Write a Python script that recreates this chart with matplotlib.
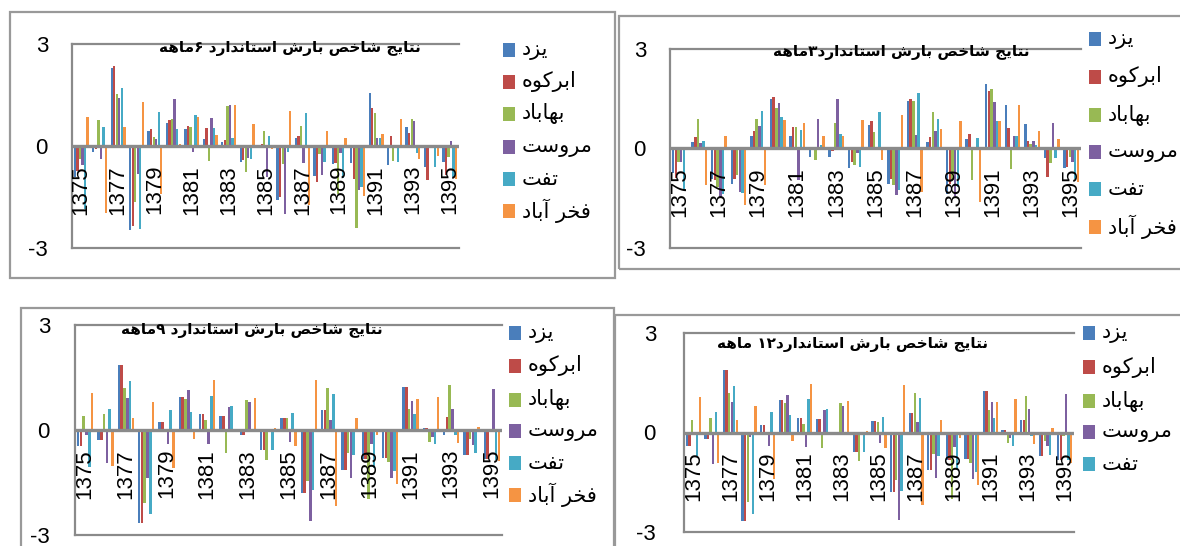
import re
import matplotlib
matplotlib.use('Agg')
import matplotlib.pyplot as plt
from matplotlib.patches import Rectangle
import numpy as np

W, H = 1180, 546

years = list(range(1375, 1396))
stations = ['يزد', 'ابركوه', 'بهاباد', 'مروست', 'تفت', 'فخر آباد']
colors = ['#4A7EBB', '#BE4B48', '#98B954', '#7D60A0', '#46AAC5', '#F59443']

# SPI values, one row per station (same order as stations)
spi6 = [
    [-0.9, -0.18, 2.29, -2.48, 0.43, 0.68, 0.5, 0.21, 0.11, -0.48, -0.02, -1.58, 0.23, -0.88, -0.53, -0.51, 1.56, -0.57, 0.55, -0.61, -0.47],
    [-0.75, -0.1, 2.36, -2.35, 0.5, 0.77, 0.58, 0.52, 0.18, -0.42, 0.05, -1.49, 0.3, -1.06, -0.51, -0.96, 1.12, 0.28, 0.38, -1.01, -0.86],
    [-0.37, 0.75, 1.54, -1.65, 0.25, 0.8, 0.55, -0.44, 1.18, -0.76, 0.45, -0.53, 0.6, -0.24, -1.4, -2.4, 0.97, -0.44, 0.79, 0.02, -0.32],
    [-0.55, -0.37, 1.4, -0.83, 0.22, 1.39, -0.19, 0.82, 1.21, -0.35, -0.9, -2.0, -0.5, -0.86, -0.2, -1.29, 0.23, 0.03, 0.74, 0.0, 0.15],
    [-1.85, 0.57, 1.7, -2.43, 1.0, 0.5, 0.92, 0.52, 0.23, -0.37, 0.28, -0.17, 0.97, -0.47, -0.93, -1.21, 0.23, -0.47, -0.22, -0.63, -0.91],
    [0.85, -1.98, 0.57, 1.29, -1.4, 0.07, 0.84, 0.32, 1.2, 0.64, -0.1, 1.03, -1.75, 0.45, 0.23, -1.48, 0.35, 0.79, -0.39, -0.29, -0.96],
]
spi3 = [
    [-0.75, 0.2, -0.91, -1.06, 0.37, 1.48, 0.37, -0.25, -0.27, -0.6, 0.71, -1.08, 1.43, 0.2, -1.36, 0.3, 1.94, 1.3, 0.73, -0.28, -0.6],
    [-0.9, 0.35, -0.95, -0.91, 0.53, 1.55, 0.66, 0.0, -0.08, -0.4, 0.84, -0.93, 1.49, 0.35, -1.06, 0.45, 1.74, 0.63, 0.23, -0.86, -0.56],
    [-0.4, 0.9, -1.16, -0.81, 0.88, 1.21, 0.66, -0.35, 0.76, -0.5, 0.5, -1.11, 1.43, 1.11, -0.96, -0.96, 1.79, -0.61, 0.13, -0.45, -0.25],
    [-0.4, 0.18, -1.46, -1.31, 0.68, 1.36, -0.95, 0.88, 1.48, -0.15, 0.0, -1.39, 0.42, 0.53, -1.43, 0.0, 1.39, 0.37, 0.23, 0.76, -0.4],
    [-1.24, 0.24, -1.36, -1.34, 1.13, 0.94, 0.56, 0.12, 0.45, -0.57, 1.09, -1.24, 1.67, 0.88, -1.16, 0.33, 0.83, 0.37, 0.12, -0.3, -0.91],
    [0.02, -1.09, 0.39, -1.69, -1.11, 0.86, 0.76, 0.37, 0.39, 0.86, -0.35, 1.01, -1.3, 0.58, 0.84, -1.62, 0.83, 1.32, 0.53, 0.28, -1.0],
]
spi9 = [
    [-0.46, -0.29, 1.86, -2.65, 0.23, 0.94, 0.45, 0.39, -0.15, -0.58, 0.33, -1.79, 0.57, -1.14, -0.84, -0.79, 1.24, 0.07, -0.15, -0.7, -0.84],
    [-0.46, -0.29, 1.86, -2.65, 0.23, 0.94, 0.45, 0.39, -0.15, -0.58, 0.33, -1.79, 0.57, -1.14, -0.84, -0.79, 1.24, 0.07, 0.37, -0.7, -0.84],
    [0.4, 0.47, 1.19, -2.08, 0.0, 0.9, 0.28, -0.67, 0.87, -0.87, 0.33, -1.46, 1.19, -0.65, -1.98, -0.9, 0.61, -0.34, 1.29, -0.27, -0.05],
    [-0.14, -0.93, 0.92, -1.36, -0.41, 1.14, -0.41, 0.66, 0.8, 0.04, -0.33, -2.6, 0.3, -1.36, -0.41, -1.38, 0.83, -0.19, 0.61, -0.44, 1.16],
    [-1.05, 0.59, 1.4, -2.41, 0.56, 0.52, 0.97, 0.69, 0.0, -0.57, 0.48, -1.71, 1.04, -0.7, -1.08, -1.17, 0.45, -0.39, -0.15, -0.65, -0.85],
    [1.05, -1.03, 0.33, 0.81, -1.08, -0.27, 1.43, -0.03, 0.92, 0.05, -0.46, 1.42, -2.17, 0.35, -0.15, -1.53, 0.9, 0.95, -0.36, 0.09, -0.88],
]
spi12 = [
    [-0.4, -0.2, 1.89, -2.68, 0.24, 0.98, 0.45, 0.4, -0.05, -0.6, 0.35, -1.8, 0.58, -1.14, -0.84, -0.81, 1.26, 0.09, 0.37, -0.72, -0.84],
    [-0.4, -0.2, 1.89, -2.68, 0.24, 0.98, 0.45, 0.4, -0.05, -0.6, 0.35, -1.8, 0.58, -1.14, -0.84, -0.81, 1.26, 0.09, 0.37, -0.72, -0.84],
    [0.39, 0.45, 1.2, -2.1, 0.0, 0.9, 0.26, -0.46, 0.89, -0.87, 0.32, -1.44, 1.2, -0.64, -2.0, -0.92, 0.68, -0.33, 1.1, -0.25, -0.1],
    [-0.08, -0.96, 0.92, -0.13, -0.41, 1.13, -0.43, 0.68, 0.8, 0.02, -0.33, -2.63, 0.31, -1.36, -0.43, -1.39, 0.91, -0.18, 0.7, -0.41, 1.15],
    [-0.72, 0.61, 1.4, -2.45, 0.61, 0.53, 1.0, 0.72, 0.0, -0.6, 0.47, -1.75, 1.05, -0.71, -1.09, -1.19, 0.45, -0.41, -0.1, -0.67, -0.84],
    [1.06, -0.92, 0.37, 0.8, -1.4, -0.26, 1.45, -0.03, 0.95, 0.04, -0.46, 1.43, -2.2, 0.37, -0.16, -1.57, 0.92, 1.01, -0.36, 0.13, -0.92],
]

title6 = 'نتایج شاخص بارش استاندارد ۶ماهه'
title3 = 'نتایج شاخص بارش استاندارد۳ماهه'
title9 = 'نتایج شاخص بارش استاندارد ۹ماهه'
title12 = 'نتایج شاخص بارش استاندارد۱۲ ماهه'

# matplotlib does no arabic shaping, so pick presentation forms by hand
# (isolated, final, initial, medial)
FORMS = {
    'ا': ('\uFE8D', '\uFE8E', None, None),
    'آ': ('\uFE81', '\uFE82', None, None),
    'ب': ('\uFE8F', '\uFE90', '\uFE91', '\uFE92'),
    'ت': ('\uFE95', '\uFE96', '\uFE97', '\uFE98'),
    'ج': ('\uFE9D', '\uFE9E', '\uFE9F', '\uFEA0'),
    'خ': ('\uFEA5', '\uFEA6', '\uFEA7', '\uFEA8'),
    'د': ('\uFEA9', '\uFEAA', None, None),
    'ر': ('\uFEAD', '\uFEAE', None, None),
    'ز': ('\uFEAF', '\uFEB0', None, None),
    'س': ('\uFEB1', '\uFEB2', '\uFEB3', '\uFEB4'),
    'ش': ('\uFEB5', '\uFEB6', '\uFEB7', '\uFEB8'),
    'ص': ('\uFEB9', '\uFEBA', '\uFEBB', '\uFEBC'),
    'ف': ('\uFED1', '\uFED2', '\uFED3', '\uFED4'),
    'ك': ('\uFED9', '\uFEDA', '\uFEDB', '\uFEDC'),
    'ک': ('\uFED9', '\uFEDA', '\uFEDB', '\uFEDC'),
    'م': ('\uFEE1', '\uFEE2', '\uFEE3', '\uFEE4'),
    'ن': ('\uFEE5', '\uFEE6', '\uFEE7', '\uFEE8'),
    'ه': ('\uFEE9', '\uFEEA', '\uFEEB', '\uFEEC'),
    'و': ('\uFEED', '\uFEEE', None, None),
    'ي': ('\uFEF1', '\uFEF2', '\uFEF3', '\uFEF4'),
    'ی': ('\uFEF1', '\uFEF2', '\uFEF3', '\uFEF4'),
}


def shape(text):
    out = []
    for i, ch in enumerate(text):
        if ch not in FORMS:
            out.append(ch)
            continue
        prev = text[i - 1] if i > 0 else ''
        nxt = text[i + 1] if i < len(text) - 1 else ''
        jp = prev in FORMS and FORMS[prev][2] is not None
        jn = FORMS[ch][2] is not None and nxt in FORMS
        iso, fin, ini, med = FORMS[ch]
        if jp and jn:
            out.append(med)
        elif jp:
            out.append(fin)
        elif jn:
            out.append(ini)
        else:
            out.append(iso)
    vis = ''.join(reversed(out))
    # digit runs stay left to right
    return re.sub('[0-9\u06F0-\u06F9]+', lambda m: m.group(0)[::-1], vis)


GREY = '#8a8a8a'
NUMFONT = 'Liberation Sans'
ARFONT = ['DejaVu Sans']

fig = plt.figure(figsize=(W / 100, H / 100), dpi=100)


def frame(x0, y0, x1, y1):
    fig.patches.append(Rectangle((x0 / W, 1 - y1 / H), (x1 - x0) / W, (y1 - y0) / H,
                                 transform=fig.transFigure, fill=False, ec='#999999', lw=1.6))


def panel(data, title, names, box, plot, ylab_right, title_xy, leg_x, leg_ys):
    frame(*box)
    x0, y0, x1, y1 = plot
    ax = fig.add_axes([x0 / W, 1 - y1 / H, (x1 - x0) / W, (y1 - y0) / H])
    x = np.arange(len(years))
    step = 0.138
    for k, vals in enumerate(data):
        ax.bar(x + (k - 2.5) * step, vals, width=0.125, color=colors[k], lw=0, zorder=2)
    ax.set_xlim(-0.5, len(years) - 0.5)
    ax.set_ylim(-3, 3)
    for s in ['top', 'right', 'bottom']:
        ax.spines[s].set_visible(False)
    ax.spines['left'].set_color(GREY)
    ax.spines['left'].set_linewidth(1.6)
    ax.axhline(3, color=GREY, lw=1.6, clip_on=False)
    ax.axhline(-3, color=GREY, lw=1.6, clip_on=False)
    ax.axhline(0, color=GREY, lw=2.4, zorder=3)
    ax.set_xticks([])
    ax.set_yticks([-3, 0, 3])
    ax.set_yticklabels(['-3', '0', '3'], fontsize=16, family=NUMFONT)
    ax.tick_params(axis='y', length=0, pad=(x0 - ylab_right) * 0.72)
    ax.patch.set_alpha(0)
    for i in range(0, len(years), 2):
        ax.annotate(str(years[i]), xy=(i, 0), xytext=(0, -19 * 0.72),
                    textcoords='offset points', rotation=90, ha='center', va='top',
                    fontsize=16, family=NUMFONT, zorder=5)
    fig.text(title_xy[0] / W, 1 - title_xy[1] / H, shape(title), ha='center', va='center',
             fontsize=11, fontweight='bold', family=ARFONT, zorder=6)
    for j, name in enumerate(names):
        yy = leg_ys[j]
        fig.patches.append(Rectangle((leg_x / W, 1 - (yy + 7) / H), 12 / W, 14 / H,
                                     transform=fig.transFigure, fc=colors[j], ec='none'))
        fig.text((leg_x + 19) / W, 1 - yy / H, shape(name), ha='left', va='center',
                 fontsize=15, family=ARFONT)


panel(spi6, title6, stations, (10, 12, 615, 278), (72, 44, 459, 248), 48,
      (290, 48), 503, [50, 82, 114, 147, 179, 211])
panel(spi3, title3, stations, (619, 16, 1195, 269), (670, 49, 1081, 248), 646,
      (901, 53), 1089, [39, 77, 115, 152, 189, 227])
panel(spi9, title9, stations, (21, 308, 614, 560), (75, 325, 502, 535), 50,
      (252, 331), 509, [333, 366, 400, 431, 463, 495])
panel(spi12, title12, stations[:5], (615, 315, 1195, 560), (684, 333, 1074, 532), 656,
      (852, 345), 1083, [333, 367, 401, 432, 464])

fig.savefig('out.png', dpi=100)
